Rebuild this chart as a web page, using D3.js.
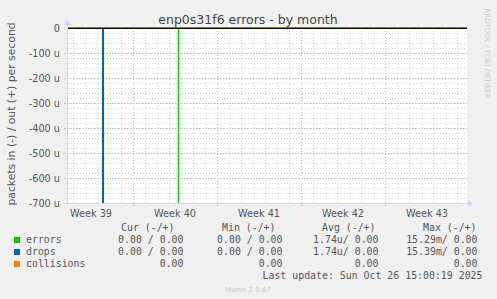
<!DOCTYPE html>
<html>
<head>
<meta charset="utf-8">
<script src="https://cdn.jsdelivr.net/npm/d3@7"></script>
<style>
  body { margin: 0; background: #f0f0f0; }
  svg { display: block; }
  .mono { font-family: "DejaVu Sans Mono", monospace; font-size: 9.9px; fill: #555; }
</style>
</head>
<body>
<svg id="chart" width="497" height="299"></svg>
<script>
// sample times (UTC) and values, in = negative side, out = positive side
var sampleTimes = ["2025-09-23T12:00Z", "2025-09-26T11:00Z", "2025-09-26T13:00Z",
                   "2025-10-02T18:30Z", "2025-10-02T19:30Z", "2025-10-26T20:00Z"]
var errorsIn   = [0, 0, 0, 15.29e-3, 0, 0]
var errorsOut  = [0, 0, 0, 0, 0, 0]
var dropsIn    = [0, 15.39e-3, 0, 0, 0, 0]
var dropsOut   = [0, 0, 0, 0, 0, 0]
var collisions = [0, 0, 0, 0, 0, 0]

var yTicks = [0, -100e-6, -200e-6, -300e-6, -400e-6, -500e-6, -600e-6, -700e-6]
var yTickLabels = ["0", "-100 u", "-200 u", "-300 u", "-400 u", "-500 u", "-600 u", "-700 u"]
var weekStarts = ["2025-09-29T00:00Z", "2025-10-06T00:00Z", "2025-10-13T00:00Z", "2025-10-20T00:00Z"]
var weekLabelTimes = ["2025-09-25T12:00Z", "2025-10-02T12:00Z", "2025-10-09T12:00Z", "2025-10-16T12:00Z", "2025-10-23T12:00Z"]
var weekLabels = ["Week 39", "Week 40", "Week 41", "Week 42", "Week 43"]

var legendNames = ["errors", "drops", "collisions"]
var legendColors = ["#00cc00", "#0066b3", "#ff8000"]
var curCol = ["0.00 / 0.00", "0.00 / 0.00", "0.00"]
var minCol = ["0.00 / 0.00", "0.00 / 0.00", "0.00"]
var avgCol = ["1.74u/ 0.00", "1.74u/ 0.00", "0.00"]
var maxCol = ["15.29m/ 0.00", "15.39m/ 0.00", "0.00"]
var colHeaders = ["Cur (-/+)", "Min (-/+)", "Avg (-/+)", "Max (-/+)"]

var svg = d3.select('#chart')
var PlotLeft = 67, PlotRight = 467, PlotTop = 28, PlotBottom = 203
var parseT = d3.isoParse

var xScale = d3.scaleUtc()
    .domain([parseT("2025-09-23T12:00Z"), parseT("2025-10-26T20:00Z")])
    .range([PlotLeft, PlotRight])
var yScale = d3.scaleLinear()
    .domain([-700e-6, 0])
    .range([PlotBottom, PlotTop])

// canvas
svg.append('rect')
    .attr('x', PlotLeft).attr('y', PlotTop)
    .attr('width', PlotRight - PlotLeft).attr('height', PlotBottom - PlotTop)
    .attr('fill', '#ffffff')

// minor grid: every day, every 20u
var days = d3.utcDay.range(xScale.domain()[0], xScale.domain()[1])
var minorY = d3.range(0, 36).map(function (i) { return -i * 20e-6 })
var grid = svg.append('g').attr('shape-rendering', 'crispEdges')
grid.selectAll('.vmin').data(days).enter().append('line')
    .attr('x1', d => Math.round(xScale(d)) + 0.5).attr('x2', d => Math.round(xScale(d)) + 0.5)
    .attr('y1', PlotTop).attr('y2', PlotBottom + 2)
    .attr('stroke', '#d6d6d6').attr('stroke-dasharray', '1,2')
grid.selectAll('.hmin').data(minorY).enter().append('line')
    .attr('x1', PlotLeft - 2).attr('x2', PlotRight)
    .attr('y1', d => Math.round(yScale(d)) + 0.5).attr('y2', d => Math.round(yScale(d)) + 0.5)
    .attr('stroke', '#d6d6d6').attr('stroke-dasharray', '1,2')
// major grid
grid.selectAll('.vmaj').data(weekStarts).enter().append('line')
    .attr('x1', d => Math.round(xScale(parseT(d))) + 0.5).attr('x2', d => Math.round(xScale(parseT(d))) + 0.5)
    .attr('y1', PlotTop).attr('y2', PlotBottom + 3)
    .attr('stroke', '#e8a8a8').attr('stroke-dasharray', '1,2')
grid.selectAll('.hmaj').data(yTicks).enter().append('line')
    .attr('x1', PlotLeft - 3).attr('x2', PlotRight)
    .attr('y1', d => Math.round(yScale(d)) + 0.5).attr('y2', d => Math.round(yScale(d)) + 0.5)
    .attr('stroke', '#e8a8a8').attr('stroke-dasharray', '1,2')

// series lines
var clip = svg.append('clipPath').attr('id', 'plotclip')
clip.append('rect').attr('x', PlotLeft).attr('y', PlotTop - 1)
    .attr('width', PlotRight - PlotLeft).attr('height', PlotBottom - PlotTop + 1)
var lineGen = d3.line()
    .x(d => xScale(d.t))
    .y(d => yScale(d.v))
    .curve(d3.curveStepAfter)
function series (vals, sign) {
    return sampleTimes.map(function (t, i) { return { t: parseT(t), v: sign * vals[i] } })
}
var plot = svg.append('g').attr('clip-path', 'url(#plotclip)')
var drawList = [
    [errorsIn, -1, legendColors[0]], [errorsOut, 1, legendColors[0]],
    [dropsIn, -1, legendColors[1]], [dropsOut, 1, legendColors[1]],
    [collisions, 1, legendColors[2]]
]
drawList.forEach(function (s) {
    plot.append('path')
        .attr('d', lineGen(series(s[0], s[1])))
        .attr('fill', 'none')
        .attr('stroke', s[2])
        .attr('stroke-width', 1)
})
// zero line
svg.append('line')
    .attr('x1', PlotLeft).attr('x2', PlotRight)
    .attr('y1', yScale(0) + 0.5).attr('y2', yScale(0) + 0.5)
    .attr('stroke', '#000').attr('stroke-width', 1)

// axes
svg.append('line').attr('x1', PlotLeft - 3).attr('x2', PlotRight + 2)
    .attr('y1', PlotBottom + 0.5).attr('y2', PlotBottom + 0.5)
    .attr('stroke', '#cfd6f8')
svg.append('path').attr('d', `M${PlotRight + 1},${PlotBottom - 3} L${PlotRight + 6},${PlotBottom + 0.5} L${PlotRight + 1},${PlotBottom + 4} Z`)
    .attr('fill', '#cfd6f8')
svg.append('line').attr('x1', PlotLeft + 0.5).attr('x2', PlotLeft + 0.5)
    .attr('y1', PlotBottom + 3).attr('y2', PlotTop - 4)
    .attr('stroke', '#cfd6f8')
svg.append('path').attr('d', `M${PlotLeft - 3},${PlotTop - 3} L${PlotLeft + 0.5},${PlotTop - 8} L${PlotLeft + 4},${PlotTop - 3} Z`)
    .attr('fill', '#cfd6f8')

// y tick labels
svg.selectAll('.ylab').data(yTicks).enter().append('text')
    .attr('x', 60)
    .attr('y', d => yScale(d) + 3.5)
    .attr('text-anchor', 'end')
    .attr('font-family', 'DejaVu Sans')
    .attr('font-size', '9.7px')
    .attr('fill', '#555')
    .text((d, i) => yTickLabels[i])

// x tick labels
svg.selectAll('.xlab').data(weekLabelTimes).enter().append('text')
    .attr('x', d => xScale(parseT(d)))
    .attr('y', 216.5)
    .attr('text-anchor', 'middle')
    .attr('font-family', 'DejaVu Sans')
    .attr('font-size', '9.7px')
    .attr('fill', '#555')
    .text((d, i) => weekLabels[i])

// title
svg.append('text')
    .attr('x', 248).attr('y', 23.5)
    .attr('text-anchor', 'middle')
    .attr('font-family', 'DejaVu Sans')
    .attr('font-size', '12.5px')
    .attr('fill', '#444')
    .text('enp0s31f6 errors - by month')

// vertical label
svg.append('text')
    .attr('transform', 'translate(14.5,114) rotate(-90)')
    .attr('text-anchor', 'middle')
    .attr('font-family', 'DejaVu Sans')
    .attr('font-size', '10.8px')
    .attr('fill', '#555')
    .text('packets in (-) / out (+) per second')

// watermark
svg.append('text')
    .attr('transform', 'translate(485,53.5) rotate(90)')
    .attr('text-anchor', 'middle')
    .attr('font-family', 'DejaVu Sans')
    .attr('font-size', '7px')
    .attr('fill', '#cccccc')
    .text('RRDTOOL / TOBI OETIKER')

// legend
var headerX = [121, 222, 322, 423]
svg.selectAll('.hdr').data(colHeaders).enter().append('text')
    .attr('class', 'mono')
    .attr('x', (d, i) => headerX[i])
    .attr('y', 231)
    .text(d => d)

var colEnds = [183.5, 282.5, 378.5, 477.5]
var cols = [curCol, minCol, avgCol, maxCol]
for (let i = 0; i < legendNames.length; i++) {
    var rowY = 243 + i * 12
    svg.append('rect')
        .attr('x', 14).attr('y', rowY - 6)
        .attr('width', 6).attr('height', 6)
        .attr('fill', legendColors[i])
    svg.append('text')
        .attr('class', 'mono')
        .attr('x', 26).attr('y', rowY)
        .text(legendNames[i])
    for (let c = 0; c < cols.length; c++) {
        svg.append('text')
            .attr('class', 'mono')
            .attr('x', colEnds[c]).attr('y', rowY)
            .attr('text-anchor', 'end')
            .text(cols[c][i])
    }
}
svg.append('text')
    .attr('class', 'mono')
    .attr('x', 482.5).attr('y', 279)
    .attr('text-anchor', 'end')
    .text('Last update: Sun Oct 26 15:00:19 2025')

svg.append('text')
    .attr('x', 248).attr('y', 291.5)
    .attr('text-anchor', 'middle')
    .attr('font-family', 'DejaVu Sans')
    .attr('font-size', '7px')
    .attr('fill', '#cccccc')
    .text('Munin 2.0.67')
</script>
</body>
</html>
